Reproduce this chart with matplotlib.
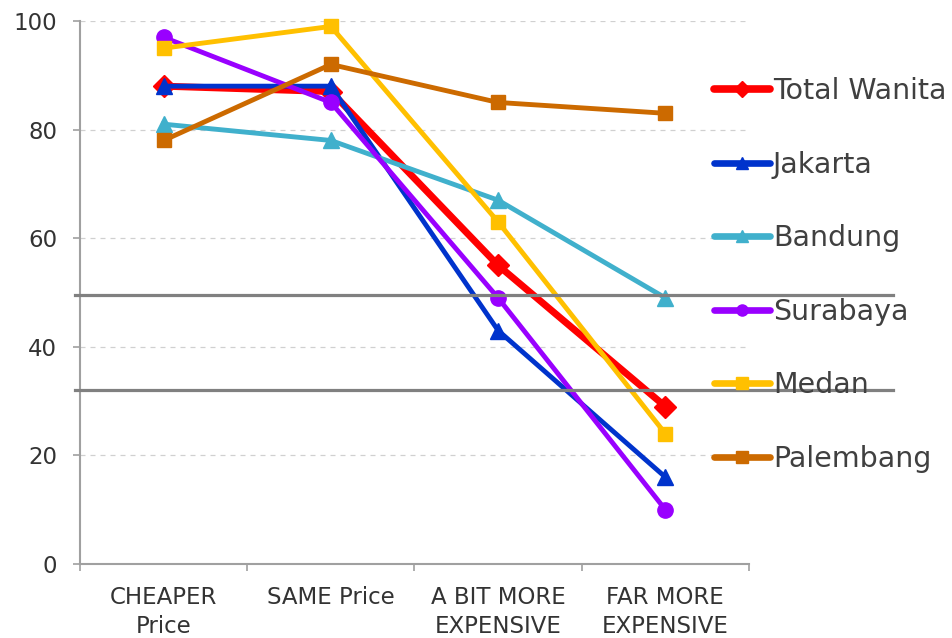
import matplotlib
matplotlib.use("Agg")
import matplotlib.pyplot as plt
from matplotlib.lines import Line2D

categories = ["CHEAPER\nPrice", "SAME Price", "A BIT MORE\nEXPENSIVE", "FAR MORE\nEXPENSIVE"]
series_names = ["Total Wanita", "Jakarta", "Bandung", "Surabaya", "Medan", "Palembang"]
total_wanita = [88, 87, 55, 29]
jakarta = [88, 88, 43, 16]
bandung = [81, 78, 67, 49]
surabaya = [97, 85, 49, 10]
medan = [95, 99, 63, 24]
palembang = [78, 92, 85, 83]
reference_levels = [49.5, 32]

series_values = [total_wanita, jakarta, bandung, surabaya, medan, palembang]
colors = ["#FF0000", "#0033CC", "#40B0CC", "#9900FF", "#FFC000", "#CC6A00"]
markers = ["D", "^", "^", "o", "s", "s"]
widths = [5, 3.5, 3.5, 3.5, 3.5, 3.5]
msizes = [11, 11, 11, 11, 10.5, 10.5]

plt.rcParams["font.family"] = ["DejaVu Sans"]
fig = plt.figure(figsize=(9.53, 6.38), dpi=100)
ax = fig.add_axes([80 / 953, 74 / 638, 669 / 953, 543 / 638])

x = list(range(len(categories)))
for name, vals, c, m, lw, ms in zip(series_names, series_values, colors, markers, widths, msizes):
    ax.plot(x, vals, color=c, marker=m, lw=lw, ms=ms, label=name,
            solid_joinstyle="miter", clip_on=False, zorder=3)

for lvl in reference_levels:
    ax.axhline(lvl, xmin=-0.008, xmax=1.215, color="#808080", lw=2.3,
               clip_on=False, zorder=4)

ax.set_xlim(-0.5, 3.5)
ax.set_ylim(0, 100)
ax.set_yticks([0, 20, 40, 60, 80, 100])
ax.yaxis.grid(True, linestyle=(0, (4, 4)), color="#D0D0D0", lw=0.9)
ax.set_axisbelow(True)

ax.set_xticks([-0.5, 0.5, 1.5, 2.5, 3.5])
ax.set_xticklabels([])
ax.set_xticks(x, minor=True)
ax.set_xticklabels(categories, minor=True, fontsize=16.5, color="#333333",
                   linespacing=1.3)
ax.tick_params(axis="x", which="minor", length=0, pad=16)
ax.tick_params(axis="x", which="major", length=5, color="#A0A0A0", width=1.2)
ax.tick_params(axis="y", length=5, color="#A0A0A0", width=1.2, labelsize=16.5,
               labelcolor="#333333", pad=11.5)

for s in ["top", "right"]:
    ax.spines[s].set_visible(False)
for s in ["left", "bottom"]:
    ax.spines[s].set_color("#A0A0A0")
    ax.spines[s].set_linewidth(1.5)

# Legend keys: thick round-capped strokes with small markers
handles = [Line2D([], [], color=c, marker=m, lw=(5.5 if i == 0 else 4.8),
                  ms=(8.5 if m == "D" else 8), solid_capstyle="round")
           for i, (c, m) in enumerate(zip(colors, markers))]
leg = fig.legend(handles, series_names, loc="upper left",
                 bbox_to_anchor=(714 / 953, 1 - 77 / 638),
                 frameon=False, fontsize=20.5, handlelength=1.95,
                 handletextpad=0.12, labelspacing=1.6, borderaxespad=0,
                 borderpad=0)
for t in leg.get_texts():
    t.set_color("#404040")

fig.savefig("out.png", dpi=100)
